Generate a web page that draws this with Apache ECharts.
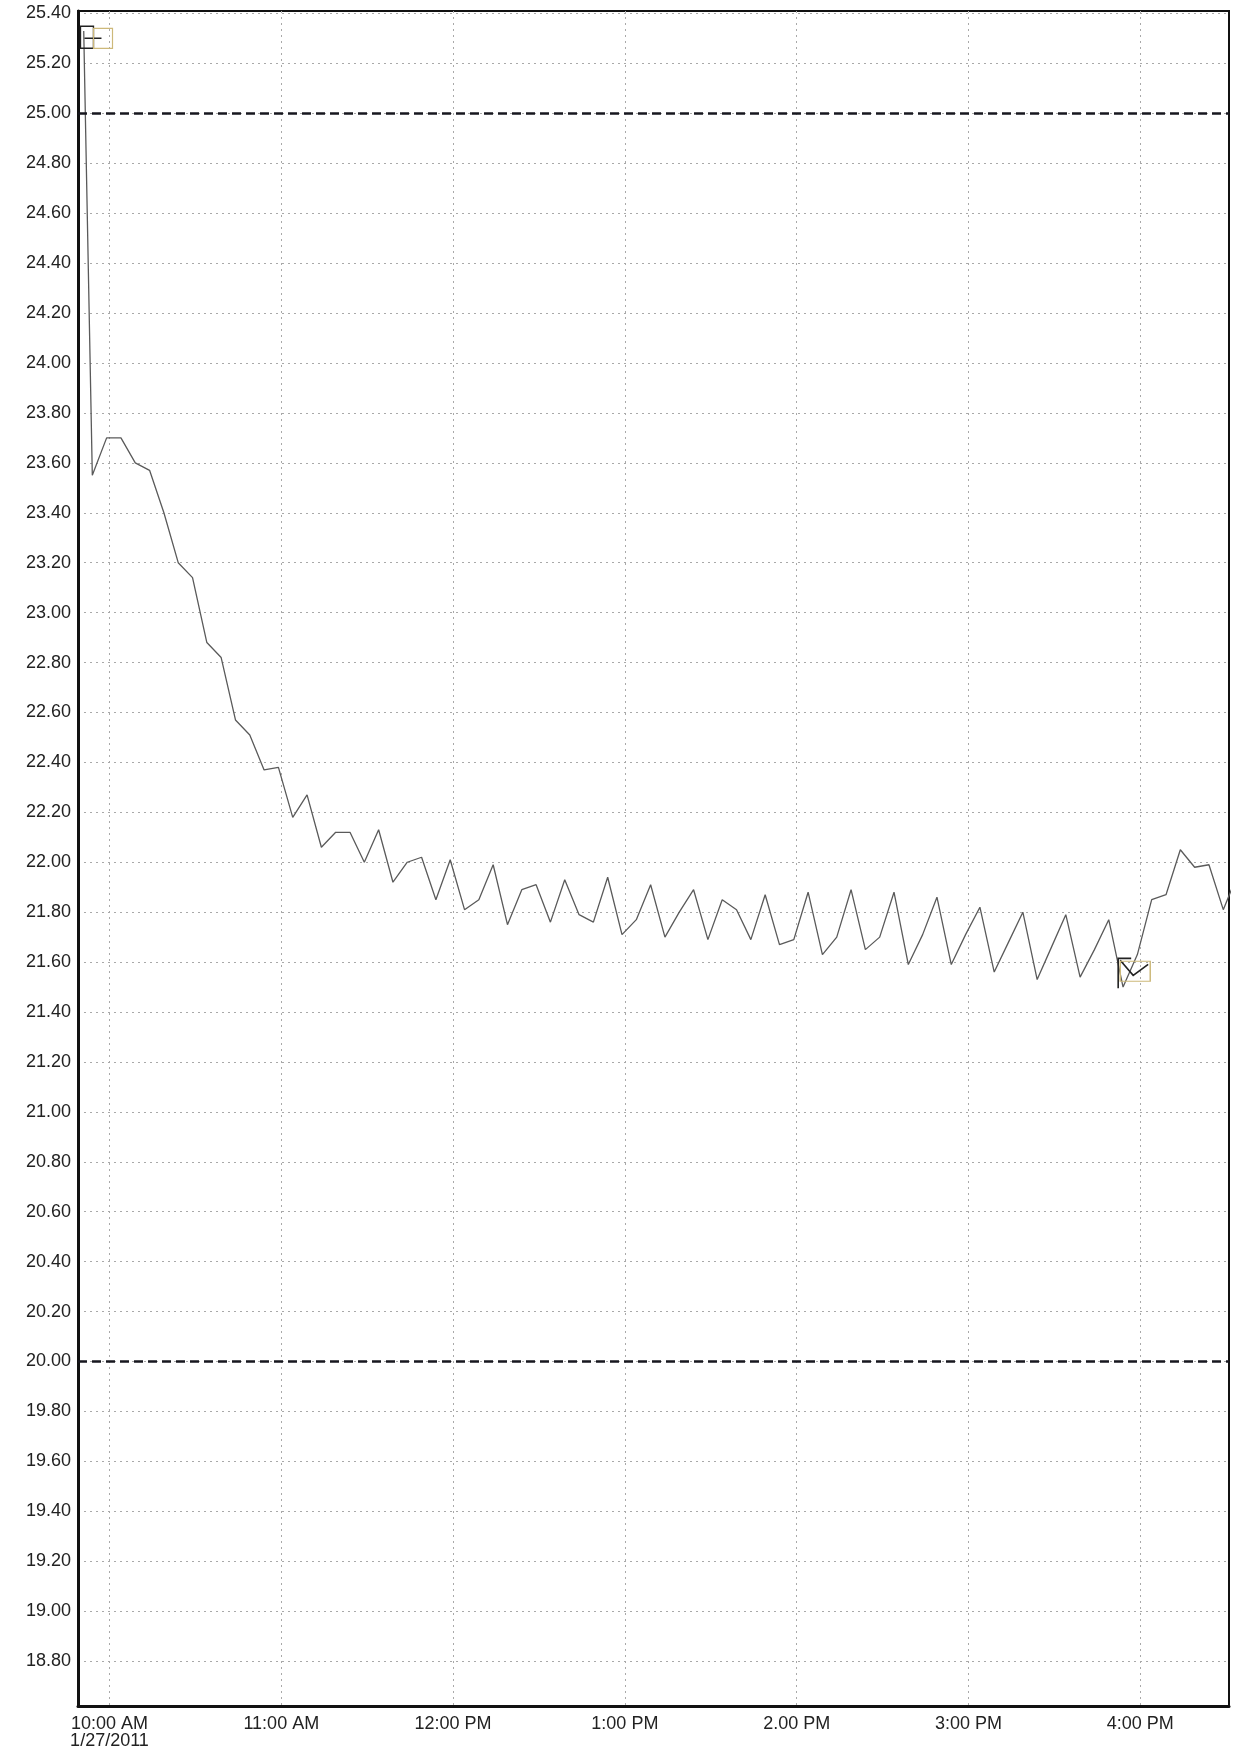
<!DOCTYPE html>
<html><head><meta charset="utf-8">
<script src="https://cdn.jsdelivr.net/npm/echarts@6/dist/echarts.min.js"></script>
<style>html,body{margin:0;padding:0;background:#fff}#c{width:1234px;height:1755px}</style>
</head><body><div id="c"></div>
<script>
// ---- data ----
const times = ["09:51","09:54","09:59","10:04","10:09","10:14","10:19","10:24","10:29","10:34","10:39","10:44","10:49","10:54","10:59","11:04","11:09","11:14","11:19","11:24","11:29","11:34","11:39","11:44","11:49","11:54","11:59","12:04","12:09","12:14","12:19","12:24","12:29","12:34","12:39","12:44","12:49","12:54","12:59","13:04","13:09","13:14","13:19","13:24","13:29","13:34","13:39","13:44","13:49","13:54","13:59","14:04","14:09","14:14","14:19","14:24","14:29","14:34","14:39","14:44","14:49","14:54","14:59","15:04","15:09","15:14","15:19","15:24","15:29","15:34","15:39","15:44","15:49","15:54","15:59","16:04","16:09","16:14","16:19","16:24","16:29","16:34"];
const temps = [25.33, 23.55,
  23.70, 23.70, 23.60, 23.57, 23.40, 23.20, 23.14, 22.88, 22.82, 22.57,
  22.51, 22.37, 22.38, 22.18, 22.27, 22.06, 22.12, 22.12, 22.00, 22.13,
  21.92, 22.00, 22.02, 21.85, 22.01, 21.81, 21.85, 21.99, 21.75, 21.89,
  21.91, 21.76, 21.93, 21.79, 21.76, 21.94, 21.71, 21.77, 21.91, 21.70,
  21.80, 21.89, 21.69, 21.85, 21.81, 21.69, 21.87, 21.67, 21.69, 21.88,
  21.63, 21.70, 21.89, 21.65, 21.70, 21.88, 21.59, 21.71, 21.86, 21.59,
  21.71, 21.82, 21.56, 21.68, 21.80, 21.53, 21.66, 21.79, 21.54, 21.65,
  21.77, 21.50, 21.63, 21.85, 21.87, 22.05, 21.98, 21.99, 21.81, 21.95];
const yTicks = [18.80,19.00,19.20,19.40,19.60,19.80,20.00,20.20,20.40,20.60,20.80,21.00,21.20,21.40,21.60,21.80,22.00,22.20,22.40,22.60,22.80,23.00,23.20,23.40,23.60,23.80,24.00,24.20,24.40,24.60,24.80,25.00,25.20,25.40];
const xTickTimes = ["10:00","11:00","12:00","13:00","14:00","15:00","16:00"];
const xTickLabels = ["10:00 AM\n1/27/2011","11:00 AM","12:00 PM","1:00 PM","2.00 PM","3:00 PM","4:00 PM"];
const limitLines = [25.00, 20.00];
const xRange = ["09:49", "16:31"];
const yRange = [18.62, 25.41];

// "HH:MM[:SS]" -> minutes since midnight (x scale unit)
const M = s => { const p = s.split(':').map(Number); return p[0] * 60 + p[1] + (p[2] || 0) / 60; };
const xTickVals = xTickTimes.map(M);

const chart = echarts.init(document.getElementById('c'), null, {renderer: 'canvas'});
const font = "'Liberation Sans', Arial, sans-serif";
const gridLine = {show: true, lineStyle: {type: [2, 4], color: '#a9a9a9', width: 1}};

chart.setOption({
  animation: false,
  backgroundColor: '#ffffff',
  grid: {left: 78, right: 5, top: 11, bottom: 49, containLabel: false, outerBoundsMode: 'none',
         show: true, borderColor: '#111', borderWidth: 2, backgroundColor: 'transparent'},
  xAxis: {
    type: 'value',
    min: M(xRange[0]), max: M(xRange[1]),
    axisLine: {show: true, onZero: false, lineStyle: {color: '#111', width: 3}},
    axisTick: {show: false, customValues: xTickVals},
    axisLabel: {
      customValues: xTickVals, showMinLabel: true, showMaxLabel: true,
      fontFamily: font, fontSize: 18, color: '#222', margin: 10, lineHeight: 17,
      formatter: v => {
        const i = xTickVals.findIndex(t => Math.abs(t - v) < 0.01);
        return i >= 0 ? xTickLabels[i] : '';
      }
    },
    splitLine: gridLine
  },
  yAxis: {
    type: 'value',
    min: yRange[0], max: yRange[1],
    axisLine: {show: true, onZero: false, lineStyle: {color: '#111', width: 3}},
    axisTick: {show: false, customValues: yTicks},
    axisLabel: {customValues: yTicks, fontFamily: font, fontSize: 18, color: '#222', margin: 7,
      formatter: v => v.toFixed(2)},
    splitLine: gridLine
  },
  series: [{
    type: 'line',
    data: times.map((t, i) => [M(t), temps[i]]),
    showSymbol: false,
    lineStyle: {color: '#5a5a5a', width: 1.3},
    clip: true,
    markLine: {
      silent: true, symbol: ['none', 'none'], label: {show: false},
      lineStyle: {color: '#17171f', type: [9, 5], width: 2.5},
      data: limitLines.map(v => ({yAxis: v}))
    },
    markPoint: {
      silent: true, label: {show: false},
      data: [
        {coord: [M('09:53:32'), 25.305], symbol: 'path://M0 0H13V22H0Z M4 12H21', symbolSize: [21, 22],
         itemStyle: {color: 'none', borderColor: '#222', borderWidth: 1.4}},
        {coord: [M('09:57:44'), 25.30], symbol: 'rect', symbolSize: [19, 20],
         itemStyle: {color: 'none', borderColor: '#cdb97a', borderWidth: 1.2}},
        {coord: [M('15:57:32'), 21.555], symbol: 'path://M0 30V0H13 M2 2L15 17L30 6', symbolSize: [30, 30],
         itemStyle: {color: 'none', borderColor: '#222', borderWidth: 1.6}},
        {coord: [M('15:58:15'), 21.563], symbol: 'rect', symbolSize: [30, 20],
         itemStyle: {color: 'none', borderColor: '#cdb97a', borderWidth: 1.2}}
      ]
    }
  }]
});
</script>
</body></html>
